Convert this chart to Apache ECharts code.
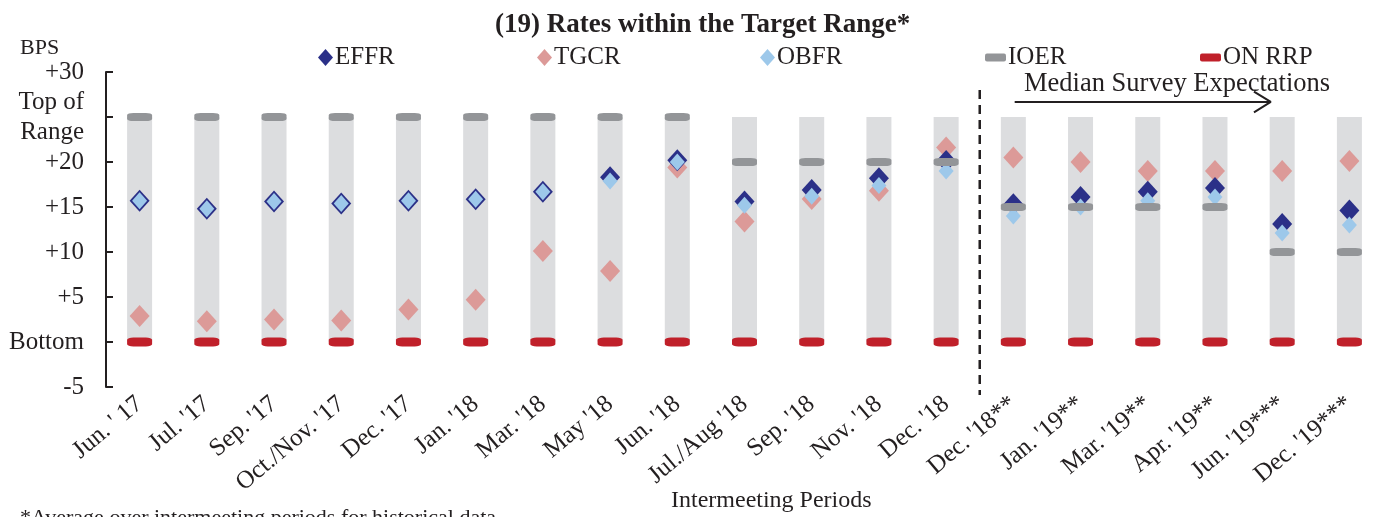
<!DOCTYPE html>
<html>
<head>
<meta charset="utf-8">
<script src="https://cdn.jsdelivr.net/npm/echarts@6/dist/echarts.min.js"></script>
<style>
    html, body { margin: 0; padding: 0; background: #fff; }
    #chart { width: 1383px; height: 517px; }
</style>
</head>
<body>
<div id="chart"></div>
<script>
var categories = ["Jun. ' 17", "Jul. '17", "Sep. '17", "Oct./Nov. '17", "Dec. '17", "Jan. '18", "Mar. '18", "May '18", "Jun. '18", "Jul./Aug '18", "Sep. '18", "Nov. '18", "Dec. '18", "Dec. '18**", "Jan. '19**", "Mar. '19**", "Apr. '19**", "Jun. '19***", "Dec. '19***"];
var rangeTop = [25, 25, 25, 25, 25, 25, 25, 25, 25, 25, 25, 25, 25, 25, 25, 25, 25, 25, 25];
var effr = [15.7, 14.8, 15.6, 15.4, 15.7, 15.85, 16.7, 18.3, 20.2, 15.6, 16.9, 18.2, 20.1, 15.3, 16.1, 16.7, 17.1, 13.1, 14.6];
var tgcr = [2.9, 2.3, 2.5, 2.4, 3.6, 4.7, 10.1, 7.9, 19.4, 13.4, 15.9, 16.8, 21.6, 20.5, 20.0, 19.0, 19.0, 19.0, 20.1];
var obfr = [15.7, 14.8, 15.6, 15.4, 15.7, 15.85, 16.7, 17.9, 20.0, 15.2, 16.2, 17.4, 19.0, 14.0, 15.0, 15.7, 16.1, 12.1, 13.0];
var ioer = [25, 25, 25, 25, 25, 25, 25, 25, 25, 20, 20, 20, 20, 15, 15, 15, 15, 10, 10];
var onrrp = [0, 0, 0, 0, 0, 0, 0, 0, 0, 0, 0, 0, 0, 0, 0, 0, 0, 0, 0];
var yTickValues = [-5, 0, 5, 10, 15, 20, 25, 30];
var yTickLabels = ['-5', 'Bottom', '+5', '+10', '+15', '+20', '{t|Top of}\n{t|Range}', '+30'];
// forecast divider and arrow, in category units
var dividerX = 12.5;
var arrowFrom = 13.02, arrowTo = 16.83, arrowY = 26.67;

var FONT = '"Liberation Serif", "DejaVu Serif", serif';

var legendBox = function(name, left, icon, w, h) {
    return {
        data: [name],
        left: left,
        top: 40,
        icon: icon,
        itemWidth: w,
        itemHeight: h,
        itemGap: 0,
        selectedMode: false,
        textStyle: { fontFamily: FONT, fontSize: 25, color: '#231f20', padding: [0, 0, 0, -3] }
    };
};

var chart = echarts.init(document.getElementById('chart'));
var option = {
    animation: false,
    backgroundColor: '#fff',
    title: {
        text: '(19) Rates within the Target Range*',
        left: 490,
        top: 7,
        textStyle: { fontFamily: FONT, fontSize: 27, fontWeight: 'bold', color: '#231f20' }
    },
    legend: [
        legendBox('EFFR', 313, 'diamond', 15, 17),
        legendBox('TGCR', 532, 'diamond', 15, 17),
        legendBox('OBFR', 755, 'diamond', 15, 17),
        legendBox('IOER', 980, 'roundRect', 21, 8),
        legendBox('ON RRP', 1195, 'roundRect', 21, 8)
    ],
    grid: { left: 106, width: 1290, top: 72, height: 315 },
    xAxis: [{
        type: 'category',
        data: categories,
        axisLine: { show: false },
        axisTick: { show: false },
        axisLabel: {
            rotate: 40,
            interval: 0,
            margin: 14,
            fontFamily: FONT,
            fontSize: 25,
            color: '#231f20'
        }
    }, {
        type: 'value',
        min: -0.5,
        max: 18.5,
        show: false
    }],
    yAxis: {
        type: 'value',
        min: -5,
        max: 30,
        interval: 5,
        splitLine: { show: false },
        axisLine: { show: true, onZero: false, lineStyle: { color: '#231f20', width: 2 } },
        axisTick: { show: true, inside: true, length: 7, lineStyle: { color: '#231f20', width: 2 } },
        axisLabel: {
            margin: 22,
            showMinLabel: true,
            showMaxLabel: true,
            hideOverlap: false,
            fontFamily: FONT,
            fontSize: 25,
            lineHeight: 25,
            color: '#231f20',
            rich: {
                t: { fontFamily: FONT, fontSize: 25, lineHeight: 30, color: '#231f20', align: 'right' }
            },
            formatter: function(v) {
                var i = yTickValues.indexOf(v);
                return i >= 0 ? yTickLabels[i] : '';
            }
        }
    },
    graphic: [{
        type: 'text',
        left: 20,
        top: 37,
        style: { text: 'BPS', font: '22px ' + FONT, fill: '#231f20' }
    }, {
        type: 'text',
        left: 1024,
        top: 71,
        style: { text: 'Median Survey Expectations', font: '26.5px ' + FONT, fill: '#231f20' }
    }, {
        type: 'text',
        left: 671,
        top: 489,
        style: { text: 'Intermeeting Periods', font: '24px ' + FONT, fill: '#231f20' }
    }, {
        type: 'text',
        left: 20,
        top: 507,
        style: { text: '*Average over intermeeting periods for historical data', font: '22px ' + FONT, fill: '#231f20' }
    }],
    series: [{
        name: 'Range',
        type: 'bar',
        data: rangeTop,
        barWidth: 25,
        itemStyle: { color: '#dcdddf' },
        silent: true
    }, {
        name: 'TGCR',
        type: 'scatter',
        data: tgcr,
        symbol: 'diamond',
        symbolSize: [20, 22],
        itemStyle: { color: '#dc9a98', opacity: 1 }
    }, {
        name: 'EFFR',
        type: 'scatter',
        data: effr,
        symbol: 'diamond',
        symbolSize: [20, 22],
        itemStyle: { color: '#2b3088', opacity: 1 }
    }, {
        name: 'OBFR',
        type: 'scatter',
        data: obfr,
        symbol: 'diamond',
        symbolSize: [15, 17],
        itemStyle: { color: '#9dc8ea', opacity: 1 }
    }, {
        name: 'IOER',
        type: 'scatter',
        data: ioer,
        symbol: 'roundRect',
        symbolSize: [25, 8],
        itemStyle: { color: '#939598', opacity: 1 }
    }, {
        name: 'ON RRP',
        type: 'scatter',
        data: onrrp,
        symbol: 'roundRect',
        symbolSize: [25, 9],
        itemStyle: { color: '#c0202a', opacity: 1 }
    }, {
        // dashed divider between history and survey expectations
        type: 'line',
        xAxisIndex: 1,
        data: [[dividerX, 28], [dividerX, -5.9]],
        symbol: 'none',
        clip: false,
        silent: true,
        lineStyle: { color: '#231f20', width: 2.5, type: [9, 6] }
    }, {
        type: 'line',
        xAxisIndex: 1,
        data: [[arrowFrom, arrowY], [arrowTo, arrowY]],
        symbol: 'none',
        silent: true,
        lineStyle: { color: '#231f20', width: 2 }
    }, {
        type: 'line',
        xAxisIndex: 1,
        data: [[arrowTo - 0.25, arrowY + 1.15], [arrowTo, arrowY], [arrowTo - 0.25, arrowY - 1.15]],
        symbol: 'none',
        silent: true,
        lineStyle: { color: '#231f20', width: 2 }
    }]
};
chart.setOption(option);
</script>
</body>
</html>
